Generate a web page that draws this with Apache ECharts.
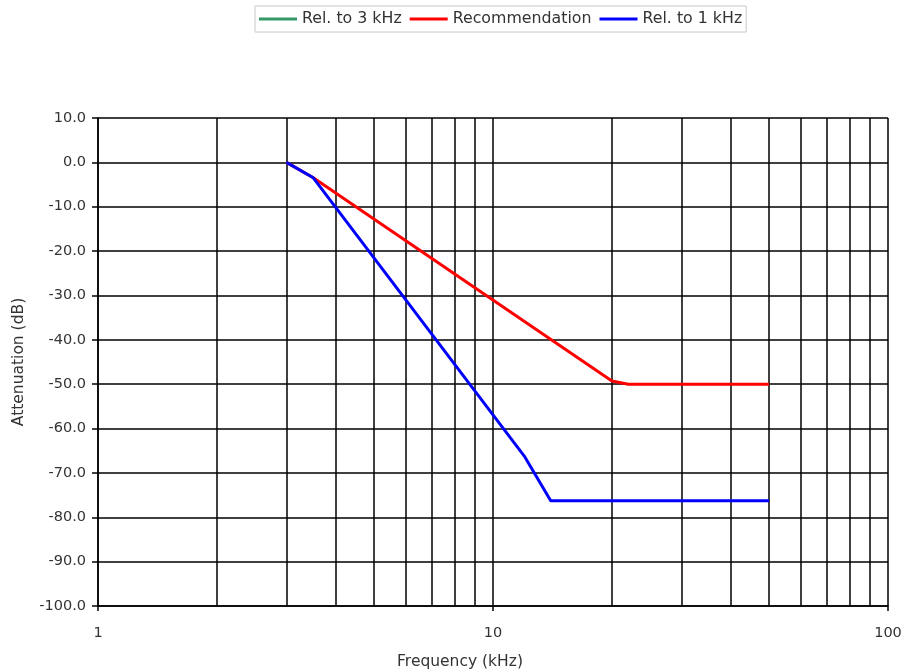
<!DOCTYPE html>
<html>
<head>
<meta charset="utf-8">
<script src="https://cdn.jsdelivr.net/npm/echarts@6/dist/echarts.min.js"></script>
<style>
  html, body { margin: 0; padding: 0; background: #fff; }
  #chart { width: 910px; height: 672px; }
</style>
</head>
<body>
<div id="chart"></div>
<script>
// frequency in kHz, attenuation in dB
const seriesNames = ['Rel. to 3 kHz', 'Recommendation', 'Rel. to 1 kHz'];
const rel3Freq = [];
const rel3Db = [];
const recFreq = [3, 3.5, 20, 22, 50];
const recDb = [0, -3.4, -49.3, -50, -50];
const rel1Freq = [3, 3.5, 12, 14, 50];
const rel1Db = [0, -3.4, -66.2, -76.3, -76.3];
const gridFreqs = [1, 2, 3, 4, 5, 6, 7, 8, 9, 10, 20, 30, 40, 50, 60, 70, 80, 90, 100];
const labelFreqs = [1, 10, 100];

const font = 'DejaVu Sans';
const pairs = (xs, ys) => xs.map((x, i) => [x, ys[i]]);

const chart = echarts.init(document.getElementById('chart'));
chart.setOption({
  animation: false,
  textStyle: { fontFamily: font },
  legend: {
    top: 6,
    left: 255,
    padding: [5, 4],
    borderColor: '#c8c8c8',
    borderWidth: 1,
    icon: 'rect',
    itemWidth: 38,
    itemHeight: 3,
    itemGap: 8,
    textStyle: { fontSize: 15.8, color: '#333', fontFamily: font }
  },
  grid: { left: 98, right: 22, top: 118, bottom: 66, outerBoundsMode: 'none' },
  xAxis: [{
    type: 'log',
    logBase: 10,
    min: 1,
    max: 100,
    axisLine: { show: false },
    axisTick: { show: false, customValues: gridFreqs },
    axisLabel: { show: false },
    splitLine: { show: true, lineStyle: { color: '#000', width: 1.5 } }
  }, {
    type: 'log',
    logBase: 10,
    min: 1,
    max: 100,
    position: 'bottom',
    name: 'Frequency (kHz)',
    nameLocation: 'middle',
    nameGap: 48,
    nameTextStyle: { fontSize: 15.5, color: '#333', padding: [0, 66, 0, 0] },
    axisLine: { lineStyle: { color: '#000', width: 1.5 } },
    axisTick: { show: true, length: 5, customValues: labelFreqs, lineStyle: { color: '#000', width: 1.5 } },
    axisLabel: { customValues: labelFreqs, margin: 20, fontSize: 14.5, color: '#333' },
    splitLine: { show: false }
  }],
  yAxis: {
    type: 'value',
    min: -100,
    max: 10,
    interval: 10,
    name: 'Attenuation (dB)',
    nameLocation: 'middle',
    nameGap: 71,
    nameTextStyle: { fontSize: 15.5, color: '#333' },
    axisLine: { show: true, lineStyle: { color: '#000', width: 1.5 } },
    axisTick: { show: true, length: 6, lineStyle: { color: '#000', width: 1.5 } },
    axisLabel: { margin: 12, fontSize: 14.5, color: '#333', formatter: v => v.toFixed(1) },
    splitLine: { show: true, lineStyle: { color: '#000', width: 1.5 } }
  },
  series: [{
    name: seriesNames[0],
    type: 'line',
    xAxisIndex: 0,
    data: pairs(rel3Freq, rel3Db),
    symbol: 'none',
    color: '#339966',
    lineStyle: { width: 3 }
  }, {
    name: seriesNames[1],
    type: 'line',
    xAxisIndex: 0,
    data: pairs(recFreq, recDb),
    symbol: 'none',
    color: '#ff0000',
    lineStyle: { width: 3 }
  }, {
    name: seriesNames[2],
    type: 'line',
    xAxisIndex: 0,
    data: pairs(rel1Freq, rel1Db),
    symbol: 'none',
    color: '#0000ff',
    lineStyle: { width: 3 }
  }]
});
</script>
</body>
</html>
